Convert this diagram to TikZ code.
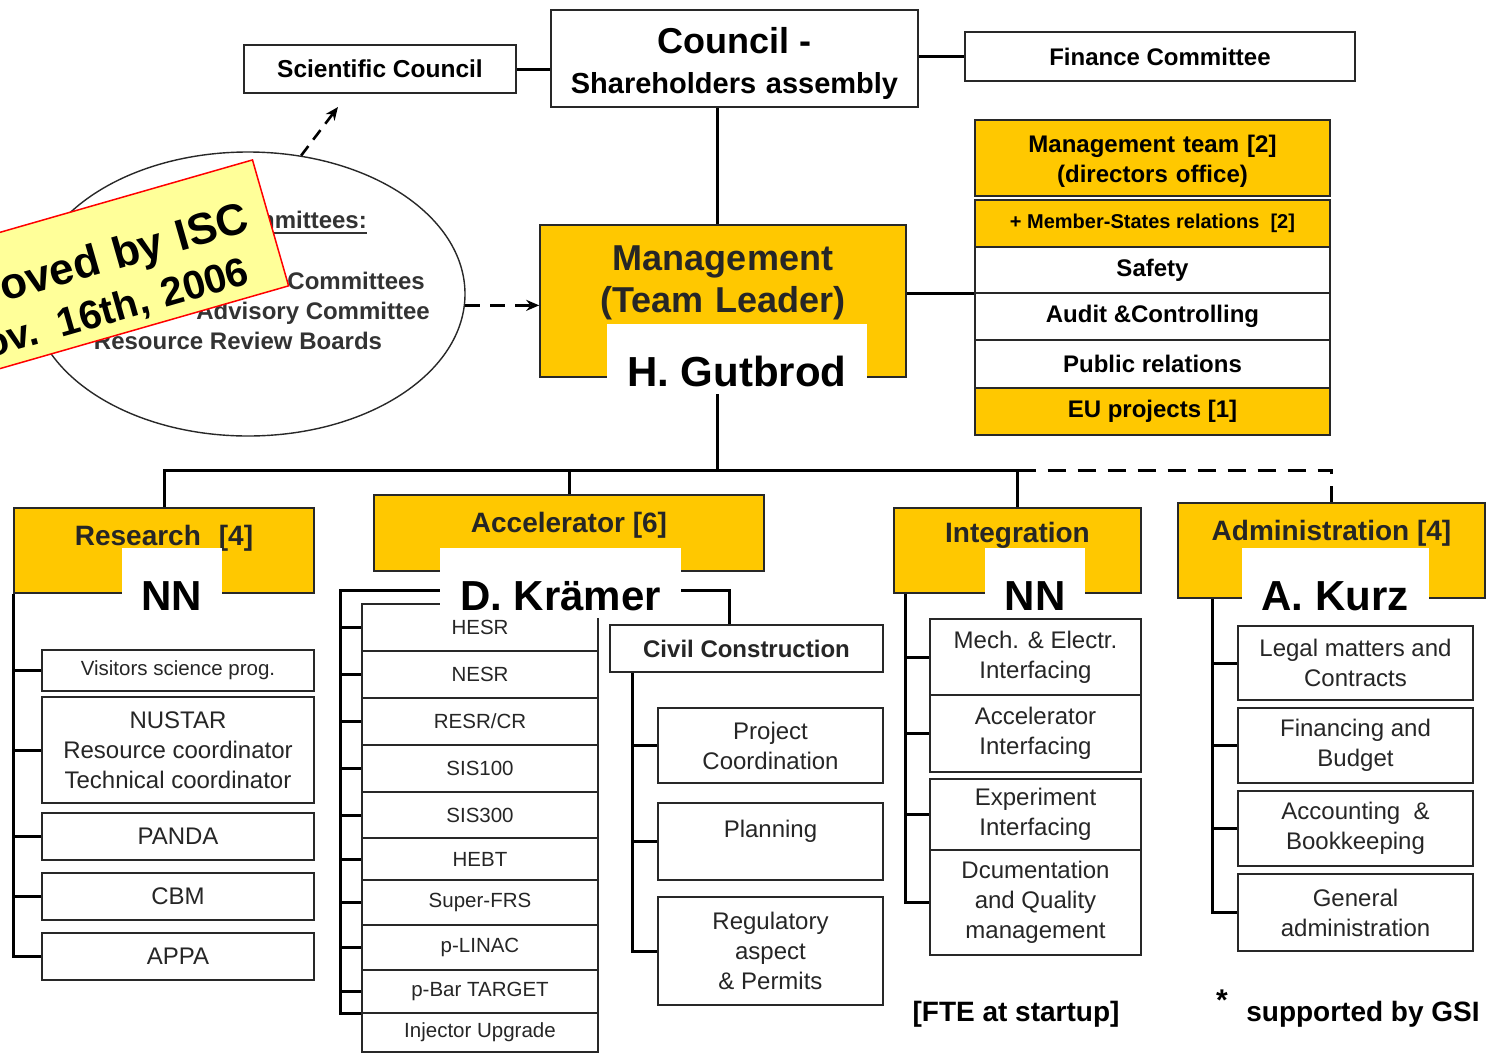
\documentclass[tikz,border=0pt]{standalone}
\usepackage{fontspec}
\setmainfont{Liberation Sans}
\usetikzlibrary{shapes.geometric,arrows.meta}
\definecolor{fairgold}{RGB}{255,200,0}
\definecolor{boxline}{RGB}{40,40,40}
\definecolor{stickeryellow}{RGB}{255,255,153}
\newcommand{\fsz}[2]{\fontsize{#1}{#2}\selectfont}

\begin{document}
\begin{tikzpicture}[x=1pt, y=-1pt,
    every node/.style={inner sep=0pt},
    topbox/.style={draw=boxline, line width=1.6pt, fill=white, font=\bfseries\fsz{24}{30}},
    panel/.style={draw=boxline, line width=1.6pt, fill=white, minimum width=355pt, align=center, font=\bfseries\fsz{24}{30}},
    headbox/.style={draw=boxline, line width=1.6pt, fill=fairgold, text=black!85, font=\bfseries\fsz{28}{32}},
    item/.style={draw=boxline, line width=1.4pt, fill=white, align=center, text=black!85, font=\fsz{24}{30}},
    acitem/.style={item, minimum width=236pt, font=\fsz{20.5}{24}},
    namebox/.style={fill=white, inner xsep=20pt, text height=62pt, text depth=8pt, font=\bfseries\fsz{42}{46}},
    comtext/.style={text=black!80, font=\bfseries\fsz{24}{28}},
    sticker/.style={draw=red, line width=1.5pt, fill=stickeryellow},
    link/.style={draw=black, line width=3pt},
    dasharrow/.style={draw=black, line width=2.6pt, dash pattern=on 12pt off 8pt, -{Stealth[length=13pt, width=11pt]}}]
    \fill[white] (0,0) rectangle (1489,1053);
    \useasboundingbox (0,0) rectangle (1489,1053);

    % council level
    \node[topbox, minimum width=272pt, minimum height=48pt, font=\bfseries\fsz{24.5}{30}] (sci) at (380,69) {Scientific Council};
    \node[topbox, minimum width=367pt, minimum height=97pt, text width=350pt, align=center, text height=43pt, text depth=54pt, font=\bfseries\fsz{29}{40}] (council) at (734.5,58.5) {{\fsz{36}{40}Council -}\\Shareholders assembly};
    \node[topbox, minimum width=390pt, minimum height=49pt] (fin) at (1160,56.5) {Finance Committee};

    % committees ellipse
    \node[ellipse, draw=boxline, line width=1.4pt, minimum width=434pt, minimum height=284pt] (ell) at (248,294) {};
    \node[comtext, anchor=base east] (comhead) at (367,228) {Committees:};
    \draw[line width=2pt, black!80] ([yshift=-5pt]comhead.base west) -- ([yshift=-5pt]comhead.base east);
    \node[comtext, anchor=base east] (com1) at (425,289) {Committees};
    \node[comtext, anchor=base east] (com2) at (430,319) {Advisory Committee};
    \node[comtext, anchor=base] (com3) at (238,349) {Resource Review Boards};
    \coordinate (sciarr) at (338,107);
    \draw[dasharrow] (ell.69) -- (sciarr);

    % management and staff functions
    \node[headbox, minimum width=366pt, minimum height=152pt, text width=340pt, align=center, font=\bfseries\fsz{36}{42}, text height=45pt, text depth=107pt] (mgmt) at (723,301) {Management\\(Team Leader)};
    \node[panel, fill=fairgold, minimum height=76pt, text width=340pt, text height=32pt, text depth=44pt] (mteam) at (1152.5,158) {Management team [2]\\(directors office)};
    \node[panel, fill=fairgold, minimum height=47pt, font=\bfseries\fsz{20}{24}] (msr) at (1152.5,223.5) {+ Member-States relations\ \ [2]};
    \node[panel, minimum height=46pt] (safety) at (1152.5,270) {Safety};
    \node[panel, minimum height=47pt] (audit) at (1152.5,316.5) {Audit \&Controlling};
    \node[panel, minimum height=48pt] (pr) at (1152.5,364) {Public relations};
    \node[panel, fill=fairgold, minimum height=47pt] (eu) at (1152.5,411.5) {EU projects [1]};
    \draw[dasharrow, dash pattern=on 15pt off 10pt] (ell.-3) -- (ell.-3 -| mgmt.west);

    % departments
    \node[headbox, minimum width=300pt, minimum height=85pt, text height=37pt, text depth=48pt] (res) at (164,550.5) {Research\hspace{18pt}[4]};
    \node[headbox, minimum width=390pt, minimum height=76pt, text height=37pt, text depth=39pt] (acc) at (569,533) {Accelerator [6]};
    \node[headbox, minimum width=247pt, minimum height=85pt, text height=34pt, text depth=51pt] (integ) at (1017.5,550.5) {Integration};
    \node[headbox, minimum width=307pt, minimum height=95pt, text height=37pt, text depth=58pt] (admin) at (1331.5,550.5) {Administration [4]};

    % research
    \node[item, minimum width=272pt, minimum height=41pt, font=\fsz{20.5}{24}] (vis) at (178,670.5) {Visitors science prog.};
    \node[item, minimum width=272pt, minimum height=106pt] (nustar) at (178,750) {NUSTAR\\Resource coordinator\\Technical coordinator};
    \node[item, minimum width=272pt, minimum height=47pt] (panda) at (178,836.5) {PANDA};
    \node[item, minimum width=272pt, minimum height=47pt] (cbm) at (178,896.5) {CBM};
    \node[item, minimum width=272pt, minimum height=47pt] (appa) at (178,956.5) {APPA};

    % accelerator
    \node[acitem, minimum height=47pt] (hesr) at (480,627.5) {HESR};
    \node[acitem, minimum height=47pt] (nesr) at (480,674.5) {NESR};
    \node[acitem, minimum height=47pt] (resr) at (480,721.5) {RESR/CR};
    \node[acitem, minimum height=47pt] (sis100) at (480,768.5) {SIS100};
    \node[acitem, minimum height=46pt] (sis300) at (480,815) {SIS300};
    \node[acitem, minimum height=42pt] (hebt) at (480,859) {HEBT};
    \node[acitem, minimum height=45pt] (sfrs) at (480,902.5) {Super-FRS};
    \node[acitem, minimum height=45pt] (plinac) at (480,947.5) {p-LINAC};
    \node[acitem, minimum height=43pt] (pbar) at (480,991.5) {p-Bar TARGET};
    \node[acitem, minimum height=39pt] (inj) at (480,1032.5) {Injector Upgrade};
    \node[item, minimum width=273pt, minimum height=47pt, font=\bfseries\fsz{24}{30}] (civil) at (746.5,648.5) {Civil Construction};
    \node[item, minimum width=225pt, minimum height=75pt] (proj) at (770.5,745.5) {Project\\Coordination};
    \node[item, minimum width=225pt, minimum height=77pt, text height=34pt, text depth=43pt] (plan) at (770.5,841.5) {Planning};
    \node[item, minimum width=225pt, minimum height=108pt] (reg) at (770.5,951) {Regulatory\\aspect\\\& Permits};

    % integration
    \node[item, minimum width=211pt, minimum height=76pt] (mech) at (1035.5,657) {Mech. \& Electr.\\Interfacing};
    \node[item, minimum width=211pt, minimum height=77pt] (accint) at (1035.5,733.5) {Accelerator\\Interfacing};
    \node[item, minimum width=211pt, minimum height=71pt] (expint) at (1035.5,814.5) {Experiment\\Interfacing};
    \node[item, minimum width=211pt, minimum height=105pt] (docu) at (1035.5,902.5) {Dcumentation\\and Quality\\management};

    % administration
    \node[item, minimum width=235pt, minimum height=74pt] (legal) at (1355.5,663) {Legal matters and\\Contracts};
    \node[item, minimum width=235pt, minimum height=75pt] (financing) at (1355.5,745.5) {Financing and\\Budget};
    \node[item, minimum width=235pt, minimum height=75pt] (acct) at (1355.5,828.5) {Accounting\ \ \&\\Bookkeeping};
    \node[item, minimum width=235pt, minimum height=77pt] (gen) at (1355.5,912.5) {General\\administration};

    % connectors
    \coordinate (trunk) at (717,470);
    \draw[link] (sci.east) -- (sci.east -| council.west);
    \draw[link] (council.east |- fin.west) -- (fin.west);
    \draw[link] (council.south -| trunk) -- (mgmt.north -| trunk);
    \draw[link] (mgmt.east |- safety.south west) -- (safety.south west);
    \draw[link] (mgmt.south -| trunk) -- (trunk);
    \draw[link] (res.north) |- (trunk) -| (integ.north);
    \draw[link] (acc.north) -- (acc.north |- trunk);
    \draw[link, dash pattern=on 18pt off 12pt] (integ.north |- trunk) -| (admin.north);

    \draw[link] (res.south west) |- (appa.west);
    \draw[link] (res.south west |- vis.west) -- (vis.west) (res.south west |- nustar.west) -- (nustar.west)
        (res.south west |- panda.west) -- (panda.west) (res.south west |- cbm.west) -- (cbm.west);

    \coordinate (abar) at (575,590);
    \coordinate (aspine) at (340,590);
    \coordinate (acorner) at (729,590);
    \draw[link] (acc.south -| abar) -- (abar);
    \draw[link] (pbar.south west) -| (aspine) -- (acorner) -- (acorner |- civil.north);
    \draw[link] (aspine |- hesr.west) -- (hesr.west) (aspine |- nesr.west) -- (nesr.west)
        (aspine |- resr.west) -- (resr.west) (aspine |- sis100.west) -- (sis100.west)
        (aspine |- sis300.west) -- (sis300.west) (aspine |- hebt.west) -- (hebt.west)
        (aspine |- sfrs.west) -- (sfrs.west) (aspine |- plinac.west) -- (plinac.west)
        (aspine |- pbar.west) -- (pbar.west);
    \coordinate (cspine) at ([xshift=23pt]civil.south west);
    \draw[link] (cspine) |- (reg.west);
    \draw[link] (cspine |- proj.west) -- (proj.west) (cspine |- plan.west) -- (plan.west);

    \coordinate (ispine) at ([xshift=12pt]integ.south west);
    \draw[link] (ispine) |- (docu.west);
    \draw[link] (ispine |- mech.west) -- (mech.west) (ispine |- accint.west) -- (accint.west)
        (ispine |- expint.west) -- (expint.west);

    \coordinate (adspine) at ([xshift=35pt]admin.south west);
    \draw[link] (adspine) |- (gen.west);
    \draw[link] (adspine |- legal.west) -- (legal.west) (adspine |- financing.west) -- (financing.west)
        (adspine |- acct.west) -- (acct.west);

    % footnotes
    \node[font=\bfseries\fsz{28}{32}] (fte) at (1016,1014) {[FTE at startup]};
    \node[font=\bfseries\fsz{30}{32}] (star) at (1222,1000) {*};
    \node[font=\bfseries\fsz{28}{32}] (gsi) at (1363,1014) {supported by GSI};

    % names pasted over the boxes
    \node[namebox, anchor=base] (gutbrod) at (737,386) {H. Gutbrod};
    \node[namebox, anchor=base] (resname) at (172,610) {NN};
    \node[namebox, anchor=base] (accname) at (560.5,610) {D. Krämer};
    \node[namebox, anchor=base] (intname) at (1035,610) {NN};
    \node[namebox, anchor=base] (admname) at (1335,610) {A. Kurz};

    % approval sticker
    \node[sticker, rotate=16, anchor=north east, minimum height=131pt, text width=330pt, align=right, inner xsep=21pt, text height=68pt, text depth=63pt, font=\bfseries\fsz{44}{50}] (isc) at (253,159) {oved by ISC\\{\fsz{40}{50}ov. 16th, 2006}\kern14pt};
\end{tikzpicture}
\end{document}
